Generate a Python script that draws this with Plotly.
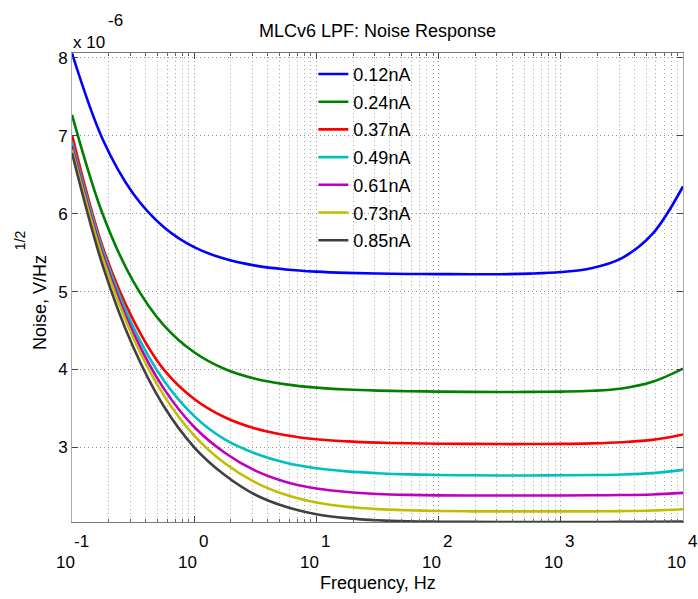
import plotly.graph_objects as go

# Frequency sample points (Hz), quarter-decade spacing from 0.1 Hz to 10 kHz
freq_hz = [0.1, 0.1778, 0.3162, 0.5623, 1.0, 1.778, 3.162, 5.623, 10.0,
           17.78, 31.62, 56.23, 100.0, 177.8, 316.2, 562.3, 1000.0,
           1778.0, 3162.0, 5623.0, 10000.0]

# Noise density for each bias current, in units of 1e-6 V/Hz^(1/2)
noise_012nA = [8.06, 6.96, 6.26, 5.83, 5.57, 5.42, 5.333, 5.284, 5.256,
               5.24, 5.231, 5.226, 5.224, 5.222, 5.222, 5.23, 5.25,
               5.30, 5.43, 5.74, 6.35]
noise_024nA = [7.27, 6.00, 5.135, 4.57, 4.22, 4.005, 3.88, 3.808, 3.766,
               3.742, 3.728, 3.72, 3.715, 3.712, 3.71, 3.711, 3.715,
               3.725, 3.755, 3.84, 4.01]
noise_037nA = [7.01, 5.58, 4.64, 4.00, 3.62, 3.385, 3.24, 3.155, 3.103,
               3.076, 3.06, 3.051, 3.046, 3.043, 3.041, 3.041, 3.043,
               3.05, 3.065, 3.095, 3.165]
noise_049nA = [6.92, 5.54, 4.55, 3.86, 3.40, 3.10, 2.92, 2.80, 2.73,
               2.69, 2.667, 2.652, 2.644, 2.64, 2.637, 2.638, 2.64,
               2.643, 2.65, 2.668, 2.71]
noise_061nA = [6.87, 5.485, 4.475, 3.756, 3.26, 2.93, 2.70, 2.555, 2.47,
               2.425, 2.40, 2.388, 2.382, 2.38, 2.38, 2.38, 2.381,
               2.383, 2.386, 2.394, 2.414]
noise_073nA = [6.82, 5.435, 4.41, 3.67, 3.15, 2.795, 2.55, 2.39, 2.29,
               2.235, 2.205, 2.19, 2.181, 2.177, 2.176, 2.176, 2.176,
               2.177, 2.18, 2.187, 2.204]
noise_085nA = [6.78, 5.34, 4.29, 3.53, 3.00, 2.643, 2.39, 2.235, 2.14,
               2.09, 2.062, 2.049, 2.044, 2.041, 2.04, 2.04, 2.04,
               2.04, 2.041, 2.042, 2.045]

series_labels = ["0.12nA", "0.24nA", "0.37nA", "0.49nA", "0.61nA", "0.73nA", "0.85nA"]
series_values = [noise_012nA, noise_024nA, noise_037nA, noise_049nA,
                 noise_061nA, noise_073nA, noise_085nA]
series_colors = ["#0000ff", "#008000", "#ff0000", "#00bfbf", "#bf00bf", "#bfbf00", "#404040"]

x_tick_exponents = [-1, 0, 1, 2, 3, 4]
y_tick_values = [3, 4, 5, 6, 7, 8]

FONT = "Liberation Sans, Arial, Helvetica, sans-serif"

fig = go.Figure()
for name, vals, col in zip(series_labels, series_values, series_colors):
    fig.add_trace(go.Scatter(
        x=freq_hz, y=vals, name=name, mode="lines",
        line=dict(color=col, width=2.6, shape="spline", smoothing=1.0),
        legendgroup=name,
    ))

all_vals = [v for s in series_values for v in s]
y_lo, y_hi = min(all_vals), max(all_vals)

minor_ticks = [m * 10.0 ** e for e in range(-1, 4) for m in range(2, 10)]
GRID_DASH = "1px,3px"

fig.update_xaxes(
    type="log", range=[-1, 4],
    tickvals=[10.0 ** e for e in x_tick_exponents],
    showticklabels=False,
    ticks="inside", ticklen=6, tickcolor="#444", tickwidth=1,
    showgrid=True, gridcolor="#959595", griddash=GRID_DASH, gridwidth=1,
    minor=dict(tickvals=minor_ticks, ticks="inside", ticklen=3, tickcolor="#666",
               showgrid=True, gridcolor="#a8a8a8", griddash=GRID_DASH, gridwidth=1),
    showline=True, linecolor="#777", linewidth=1, mirror="all", zeroline=False,
)
fig.update_yaxes(
    range=[y_lo, y_hi + 0.004],
    tickvals=y_tick_values, ticktext=[str(v) for v in y_tick_values],
    tickfont=dict(size=17, family=FONT, color="black"),
    ticks="inside", ticklen=6, tickcolor="#444", tickwidth=1,
    showgrid=True, gridcolor="#959595", griddash=GRID_DASH, gridwidth=1,
    showline=True, linecolor="#aaa", linewidth=1, mirror="all", zeroline=False,
)

annotations = []
# MATLAB-style decade tick labels: base "10" with the exponent raised to its right
for e in x_tick_exponents:
    annotations.append(dict(x=e, xref="x", y=-0.0874, yref="paper", text="10",
                            showarrow=False, xanchor="center", yanchor="middle",
                            xshift=-7, font=dict(size=17, family=FONT, color="black")))
    annotations.append(dict(x=e, xref="x", y=-0.042, yref="paper", text=str(e),
                            showarrow=False, xanchor="center", yanchor="middle",
                            xshift=9, font=dict(size=17, family=FONT, color="black")))
# y-axis multiplier
annotations.append(dict(x=0.0278, xref="paper", y=1.022, yref="paper", text="x 10",
                        showarrow=False, xanchor="center", yanchor="middle",
                        font=dict(size=17, family=FONT, color="black")))
annotations.append(dict(x=0.0704, xref="paper", y=1.0689, yref="paper", text="-6",
                        showarrow=False, xanchor="center", yanchor="middle",
                        font=dict(size=17, family=FONT, color="black")))
# title and axis labels
annotations.append(dict(x=0.5, xref="paper", y=1.0469, yref="paper",
                        text="MLCv6 LPF: Noise Response", showarrow=False,
                        xanchor="center", yanchor="middle",
                        font=dict(size=18, family=FONT, color="black")))
annotations.append(dict(x=0.5, xref="paper", y=-0.130, yref="paper",
                        text="Frequency, Hz", showarrow=False,
                        xanchor="center", yanchor="middle",
                        font=dict(size=18, family=FONT, color="black")))
annotations.append(dict(x=-0.0524, xref="paper", y=0.469, yref="paper",
                        text="Noise, V/Hz", textangle=-90, showarrow=False,
                        xanchor="center", yanchor="middle",
                        font=dict(size=18, family=FONT, color="black")))
annotations.append(dict(x=-0.0851, xref="paper", y=0.601, yref="paper",
                        text="1/2", textangle=-90, showarrow=False,
                        xanchor="center", yanchor="middle",
                        font=dict(size=14, family=FONT, color="black")))

fig.update_layout(
    width=698, height=599,
    margin=dict(l=72, r=15, t=53, b=77, pad=0),
    paper_bgcolor="white", plot_bgcolor="white",
    font=dict(family=FONT, size=18, color="black"),
    showlegend=True,
    legend=dict(x=0.395, y=0.994, xanchor="left", yanchor="top",
                bgcolor="rgba(0,0,0,0)", borderwidth=0,
                font=dict(size=18, family=FONT, color="black"),
                tracegroupgap=1.3, itemwidth=30),
    annotations=annotations,
)

fig.write_html("out.html")
